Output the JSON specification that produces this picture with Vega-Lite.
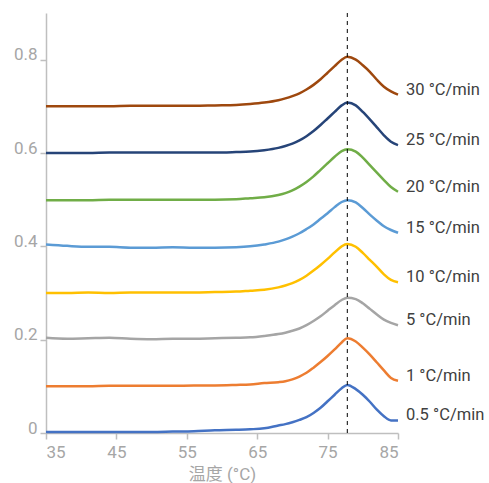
{
  "$schema": "https://vega.github.io/schema/vega-lite/v6.json",
  "width": 352,
  "height": 420,
  "autosize": {"type": "none"},
  "padding": {"left": 46, "top": 13, "right": 91, "bottom": 50},
  "background": "white",
  "config": {
    "view": {"stroke": null},
    "font": "Roboto",
    "axis": {"grid": false}
  },
  "datasets": {
    "curves": [
      {"s":"0.5 °C/min","t":35,"v":0.002},{"s":"0.5 °C/min","t":38,"v":0.002},{"s":"0.5 °C/min","t":41,"v":0.002},{"s":"0.5 °C/min","t":44,"v":0.002},{"s":"0.5 °C/min","t":47,"v":0.002},{"s":"0.5 °C/min","t":50,"v":0.002},{"s":"0.5 °C/min","t":53,"v":0.003},{"s":"0.5 °C/min","t":56,"v":0.004},{"s":"0.5 °C/min","t":59,"v":0.006},{"s":"0.5 °C/min","t":62,"v":0.007},{"s":"0.5 °C/min","t":64,"v":0.008},{"s":"0.5 °C/min","t":66,"v":0.01},{"s":"0.5 °C/min","t":68,"v":0.016},{"s":"0.5 °C/min","t":69,"v":0.019},{"s":"0.5 °C/min","t":70,"v":0.023},{"s":"0.5 °C/min","t":71,"v":0.028},{"s":"0.5 °C/min","t":72,"v":0.034},{"s":"0.5 °C/min","t":73,"v":0.043},{"s":"0.5 °C/min","t":74,"v":0.054},{"s":"0.5 °C/min","t":75,"v":0.068},{"s":"0.5 °C/min","t":76,"v":0.082},{"s":"0.5 °C/min","t":77,"v":0.096},{"s":"0.5 °C/min","t":77.8,"v":0.103},{"s":"0.5 °C/min","t":79,"v":0.094},{"s":"0.5 °C/min","t":80,"v":0.082},{"s":"0.5 °C/min","t":81,"v":0.067},{"s":"0.5 °C/min","t":82,"v":0.05},{"s":"0.5 °C/min","t":83,"v":0.036},{"s":"0.5 °C/min","t":84,"v":0.027},{"s":"0.5 °C/min","t":85,"v":0.027},
      {"s":"1 °C/min","t":35,"v":0.1},{"s":"1 °C/min","t":38,"v":0.1},{"s":"1 °C/min","t":41,"v":0.1},{"s":"1 °C/min","t":44,"v":0.101},{"s":"1 °C/min","t":47,"v":0.101},{"s":"1 °C/min","t":50,"v":0.101},{"s":"1 °C/min","t":53,"v":0.101},{"s":"1 °C/min","t":56,"v":0.102},{"s":"1 °C/min","t":59,"v":0.102},{"s":"1 °C/min","t":62,"v":0.103},{"s":"1 °C/min","t":64,"v":0.104},{"s":"1 °C/min","t":66,"v":0.107},{"s":"1 °C/min","t":68,"v":0.109},{"s":"1 °C/min","t":69,"v":0.111},{"s":"1 °C/min","t":70,"v":0.115},{"s":"1 °C/min","t":71,"v":0.121},{"s":"1 °C/min","t":72,"v":0.129},{"s":"1 °C/min","t":73,"v":0.14},{"s":"1 °C/min","t":74,"v":0.152},{"s":"1 °C/min","t":75,"v":0.165},{"s":"1 °C/min","t":76,"v":0.179},{"s":"1 °C/min","t":77,"v":0.194},{"s":"1 °C/min","t":77.8,"v":0.203},{"s":"1 °C/min","t":79,"v":0.196},{"s":"1 °C/min","t":80,"v":0.183},{"s":"1 °C/min","t":81,"v":0.168},{"s":"1 °C/min","t":82,"v":0.151},{"s":"1 °C/min","t":83,"v":0.134},{"s":"1 °C/min","t":84,"v":0.118},{"s":"1 °C/min","t":85,"v":0.112},
      {"s":"5 °C/min","t":35,"v":0.204},{"s":"5 °C/min","t":38,"v":0.202},{"s":"5 °C/min","t":41,"v":0.203},{"s":"5 °C/min","t":44,"v":0.204},{"s":"5 °C/min","t":47,"v":0.202},{"s":"5 °C/min","t":50,"v":0.201},{"s":"5 °C/min","t":53,"v":0.202},{"s":"5 °C/min","t":56,"v":0.202},{"s":"5 °C/min","t":59,"v":0.203},{"s":"5 °C/min","t":62,"v":0.204},{"s":"5 °C/min","t":64,"v":0.205},{"s":"5 °C/min","t":66,"v":0.208},{"s":"5 °C/min","t":68,"v":0.212},{"s":"5 °C/min","t":69,"v":0.215},{"s":"5 °C/min","t":70,"v":0.219},{"s":"5 °C/min","t":71,"v":0.224},{"s":"5 °C/min","t":72,"v":0.231},{"s":"5 °C/min","t":73,"v":0.24},{"s":"5 °C/min","t":74,"v":0.25},{"s":"5 °C/min","t":75,"v":0.262},{"s":"5 °C/min","t":76,"v":0.274},{"s":"5 °C/min","t":77,"v":0.285},{"s":"5 °C/min","t":77.8,"v":0.29},{"s":"5 °C/min","t":79,"v":0.287},{"s":"5 °C/min","t":80,"v":0.278},{"s":"5 °C/min","t":81,"v":0.266},{"s":"5 °C/min","t":82,"v":0.254},{"s":"5 °C/min","t":83,"v":0.243},{"s":"5 °C/min","t":84,"v":0.236},{"s":"5 °C/min","t":85,"v":0.231},
      {"s":"10 °C/min","t":35,"v":0.3},{"s":"10 °C/min","t":38,"v":0.3},{"s":"10 °C/min","t":41,"v":0.301},{"s":"10 °C/min","t":44,"v":0.3},{"s":"10 °C/min","t":47,"v":0.301},{"s":"10 °C/min","t":50,"v":0.301},{"s":"10 °C/min","t":53,"v":0.301},{"s":"10 °C/min","t":56,"v":0.301},{"s":"10 °C/min","t":59,"v":0.302},{"s":"10 °C/min","t":62,"v":0.303},{"s":"10 °C/min","t":64,"v":0.305},{"s":"10 °C/min","t":66,"v":0.307},{"s":"10 °C/min","t":68,"v":0.312},{"s":"10 °C/min","t":69,"v":0.316},{"s":"10 °C/min","t":70,"v":0.321},{"s":"10 °C/min","t":71,"v":0.328},{"s":"10 °C/min","t":72,"v":0.337},{"s":"10 °C/min","t":73,"v":0.348},{"s":"10 °C/min","t":74,"v":0.36},{"s":"10 °C/min","t":75,"v":0.373},{"s":"10 °C/min","t":76,"v":0.387},{"s":"10 °C/min","t":77,"v":0.4},{"s":"10 °C/min","t":77.8,"v":0.405},{"s":"10 °C/min","t":79,"v":0.399},{"s":"10 °C/min","t":80,"v":0.386},{"s":"10 °C/min","t":81,"v":0.371},{"s":"10 °C/min","t":82,"v":0.356},{"s":"10 °C/min","t":83,"v":0.34},{"s":"10 °C/min","t":84,"v":0.328},{"s":"10 °C/min","t":85,"v":0.323},
      {"s":"15 °C/min","t":35,"v":0.404},{"s":"15 °C/min","t":38,"v":0.401},{"s":"15 °C/min","t":41,"v":0.399},{"s":"15 °C/min","t":44,"v":0.399},{"s":"15 °C/min","t":47,"v":0.397},{"s":"15 °C/min","t":50,"v":0.397},{"s":"15 °C/min","t":53,"v":0.398},{"s":"15 °C/min","t":56,"v":0.397},{"s":"15 °C/min","t":59,"v":0.397},{"s":"15 °C/min","t":62,"v":0.398},{"s":"15 °C/min","t":64,"v":0.4},{"s":"15 °C/min","t":66,"v":0.404},{"s":"15 °C/min","t":68,"v":0.41},{"s":"15 °C/min","t":69,"v":0.415},{"s":"15 °C/min","t":70,"v":0.421},{"s":"15 °C/min","t":71,"v":0.428},{"s":"15 °C/min","t":72,"v":0.437},{"s":"15 °C/min","t":73,"v":0.447},{"s":"15 °C/min","t":74,"v":0.459},{"s":"15 °C/min","t":75,"v":0.471},{"s":"15 °C/min","t":76,"v":0.484},{"s":"15 °C/min","t":77,"v":0.495},{"s":"15 °C/min","t":77.8,"v":0.499},{"s":"15 °C/min","t":79,"v":0.494},{"s":"15 °C/min","t":80,"v":0.482},{"s":"15 °C/min","t":81,"v":0.468},{"s":"15 °C/min","t":82,"v":0.455},{"s":"15 °C/min","t":83,"v":0.443},{"s":"15 °C/min","t":84,"v":0.435},{"s":"15 °C/min","t":85,"v":0.429},
      {"s":"20 °C/min","t":35,"v":0.499},{"s":"20 °C/min","t":38,"v":0.499},{"s":"20 °C/min","t":41,"v":0.499},{"s":"20 °C/min","t":44,"v":0.5},{"s":"20 °C/min","t":47,"v":0.5},{"s":"20 °C/min","t":50,"v":0.5},{"s":"20 °C/min","t":53,"v":0.5},{"s":"20 °C/min","t":56,"v":0.5},{"s":"20 °C/min","t":59,"v":0.5},{"s":"20 °C/min","t":62,"v":0.501},{"s":"20 °C/min","t":64,"v":0.503},{"s":"20 °C/min","t":66,"v":0.505},{"s":"20 °C/min","t":68,"v":0.51},{"s":"20 °C/min","t":69,"v":0.514},{"s":"20 °C/min","t":70,"v":0.52},{"s":"20 °C/min","t":71,"v":0.528},{"s":"20 °C/min","t":72,"v":0.538},{"s":"20 °C/min","t":73,"v":0.55},{"s":"20 °C/min","t":74,"v":0.564},{"s":"20 °C/min","t":75,"v":0.578},{"s":"20 °C/min","t":76,"v":0.592},{"s":"20 °C/min","t":77,"v":0.604},{"s":"20 °C/min","t":77.8,"v":0.608},{"s":"20 °C/min","t":79,"v":0.603},{"s":"20 °C/min","t":80,"v":0.59},{"s":"20 °C/min","t":81,"v":0.574},{"s":"20 °C/min","t":82,"v":0.558},{"s":"20 °C/min","t":83,"v":0.542},{"s":"20 °C/min","t":84,"v":0.527},{"s":"20 °C/min","t":85,"v":0.517},
      {"s":"25 °C/min","t":35,"v":0.6},{"s":"25 °C/min","t":38,"v":0.6},{"s":"25 °C/min","t":41,"v":0.6},{"s":"25 °C/min","t":44,"v":0.601},{"s":"25 °C/min","t":47,"v":0.601},{"s":"25 °C/min","t":50,"v":0.601},{"s":"25 °C/min","t":53,"v":0.601},{"s":"25 °C/min","t":56,"v":0.601},{"s":"25 °C/min","t":59,"v":0.601},{"s":"25 °C/min","t":62,"v":0.602},{"s":"25 °C/min","t":64,"v":0.603},{"s":"25 °C/min","t":66,"v":0.606},{"s":"25 °C/min","t":68,"v":0.611},{"s":"25 °C/min","t":69,"v":0.615},{"s":"25 °C/min","t":70,"v":0.62},{"s":"25 °C/min","t":71,"v":0.627},{"s":"25 °C/min","t":72,"v":0.636},{"s":"25 °C/min","t":73,"v":0.647},{"s":"25 °C/min","t":74,"v":0.66},{"s":"25 °C/min","t":75,"v":0.674},{"s":"25 °C/min","t":76,"v":0.688},{"s":"25 °C/min","t":77,"v":0.702},{"s":"25 °C/min","t":77.8,"v":0.708},{"s":"25 °C/min","t":79,"v":0.702},{"s":"25 °C/min","t":80,"v":0.688},{"s":"25 °C/min","t":81,"v":0.672},{"s":"25 °C/min","t":82,"v":0.655},{"s":"25 °C/min","t":83,"v":0.638},{"s":"25 °C/min","t":84,"v":0.624},{"s":"25 °C/min","t":85,"v":0.617},
      {"s":"30 °C/min","t":35,"v":0.7},{"s":"30 °C/min","t":38,"v":0.7},{"s":"30 °C/min","t":41,"v":0.7},{"s":"30 °C/min","t":44,"v":0.7},{"s":"30 °C/min","t":47,"v":0.701},{"s":"30 °C/min","t":50,"v":0.701},{"s":"30 °C/min","t":53,"v":0.701},{"s":"30 °C/min","t":56,"v":0.701},{"s":"30 °C/min","t":59,"v":0.702},{"s":"30 °C/min","t":62,"v":0.703},{"s":"30 °C/min","t":64,"v":0.705},{"s":"30 °C/min","t":66,"v":0.708},{"s":"30 °C/min","t":68,"v":0.713},{"s":"30 °C/min","t":69,"v":0.717},{"s":"30 °C/min","t":70,"v":0.722},{"s":"30 °C/min","t":71,"v":0.728},{"s":"30 °C/min","t":72,"v":0.736},{"s":"30 °C/min","t":73,"v":0.746},{"s":"30 °C/min","t":74,"v":0.758},{"s":"30 °C/min","t":75,"v":0.772},{"s":"30 °C/min","t":76,"v":0.786},{"s":"30 °C/min","t":77,"v":0.8},{"s":"30 °C/min","t":77.8,"v":0.806},{"s":"30 °C/min","t":79,"v":0.8},{"s":"30 °C/min","t":80,"v":0.788},{"s":"30 °C/min","t":81,"v":0.774},{"s":"30 °C/min","t":82,"v":0.757},{"s":"30 °C/min","t":83,"v":0.742},{"s":"30 °C/min","t":84,"v":0.732},{"s":"30 °C/min","t":85,"v":0.725}
    ],
    "peak": [{"t": 77.8}]
  },
  "layer": [
    {
      "data": {"name": "curves"},
      "mark": {"type": "line", "interpolate": "monotone", "strokeWidth": 2.5},
      "encoding": {
        "x": {
          "field": "t", "type": "quantitative",
          "scale": {"domain": [35, 85], "nice": false, "zero": false},
          "axis": {
            "values": [35, 45, 55, 65, 75, 85],
            "title": "温度 (°C)",
            "titleFont": "Roboto, Noto Sans CJK SC",
            "titleFontSize": 17,
            "titleFontWeight": "normal",
            "titleColor": "#a6a6a6",
            "titlePadding": 6,
            "labelFontSize": 17,
            "labelColor": "#a6a6a6",
            "labelPadding": 5,
            "domainColor": "#bfbfbf",
            "domainWidth": 1.5,
            "tickColor": "#bfbfbf",
            "tickWidth": 1.5,
            "tickSize": 6
          }
        },
        "y": {
          "field": "v", "type": "quantitative",
          "scale": {"domain": [0, 0.9], "nice": false},
          "axis": {
            "values": [0, 0.2, 0.4, 0.6, 0.8],
            "format": ".1~f",
            "title": null,
            "labelFontSize": 17,
            "labelColor": "#a6a6a6",
            "labelBaseline": "alphabetic",
            "labelPadding": 3,
            "domainColor": "#bfbfbf",
            "domainWidth": 1.5,
            "tickColor": "#bfbfbf",
            "tickWidth": 1.5,
            "tickSize": 6
          }
        },
        "color": {
          "field": "s", "type": "nominal", "legend": null,
          "scale": {
            "domain": ["0.5 °C/min", "1 °C/min", "5 °C/min", "10 °C/min", "15 °C/min", "20 °C/min", "25 °C/min", "30 °C/min"],
            "range": ["#4472C4", "#ED7D31", "#A5A5A5", "#FFC000", "#5B9BD5", "#70AD47", "#264478", "#9E480E"]
          }
        }
      }
    },
    {
      "data": {"name": "curves"},
      "transform": [{"filter": "datum.t == 85"}],
      "mark": {"type": "text", "align": "left", "baseline": "alphabetic", "dx": 8, "fontSize": 16.5, "color": "#404040"},
      "encoding": {
        "x": {"field": "t", "type": "quantitative"},
        "y": {"field": "v", "type": "quantitative"},
        "text": {"field": "s"}
      }
    },
    {
      "data": {"name": "peak"},
      "mark": {"type": "rule", "color": "black", "strokeWidth": 1, "strokeDash": [4, 4]},
      "encoding": {
        "x": {"field": "t", "type": "quantitative"}
      }
    }
  ]
}
